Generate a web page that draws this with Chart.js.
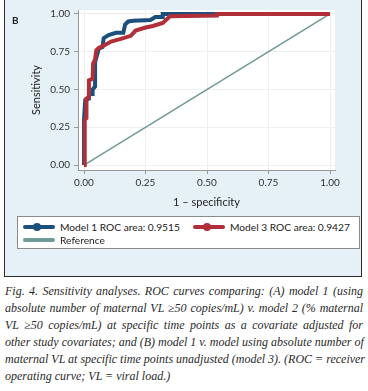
<!DOCTYPE html>
<html>
<head>
<meta charset="utf-8">
<script src="https://cdn.jsdelivr.net/npm/chart.js@4.4.1/dist/chart.umd.min.js"></script>
<style>
body { margin: 0; background: #fff; }
#wrap { position: relative; width: 368px; height: 391px; overflow: hidden; }
#panel { position: absolute; left: 4px; top: -2px; width: 356px; height: 277px; background: #e5f1f7; border: 1.5px solid #2b2b2b; }
#roc { position: absolute; left: 0; top: 0; }
#tag { position: absolute; left: 12px; top: 14px; font: bold 10px Lato, sans-serif; color: #222; }
#legend { position: absolute; left: 17px; top: 216px; width: 341px; height: 31px; background: #fff; border: 1px solid #8a8a8a; font: 11px Lato, sans-serif; color: #222; }
.item { position: absolute; display: flex; align-items: center; height: 14px; white-space: nowrap; }
.sym { position: relative; width: 32px; height: 14px; margin-right: 5px; }
.sym .ln { position: absolute; left: 0; right: 0; top: 5px; height: 4px; border-radius: 2px; }
.sym .dot { position: absolute; left: 10px; top: 3px; width: 8px; height: 8px; border-radius: 50%; }
#caption { position: absolute; left: 5px; top: 283px; width: 358px; font: italic 12px "Liberation Serif", serif; color: #2a2a2a; }
.cl { height: 17px; line-height: 17px; white-space: nowrap; text-align: justify; text-align-last: justify; }
.cl.last { text-align-last: left; }
</style>
</head>
<body>
<div id="wrap">
  <div id="panel"></div>
  <canvas id="roc" width="368" height="212"></canvas>
  <div id="tag">B</div>
  <div id="legend"></div>
  <div id="caption">
    <div class="cl">Fig. 4. Sensitivity analyses. ROC curves comparing: (A) model 1 (using</div>
    <div class="cl">absolute number of maternal VL ≥50 copies/mL) v. model 2 (% maternal</div>
    <div class="cl">VL ≥50 copies/mL) at specific time points as a covariate adjusted for</div>
    <div class="cl">other study covariates; and (B) model 1 v. model using absolute number of</div>
    <div class="cl">maternal VL at specific time points unadjusted (model 3). (ROC = receiver</div>
    <div class="cl last">operating curve; VL = viral load.)</div>
  </div>
</div>
<script>
// ROC points (1 - specificity, sensitivity)
const fprModel1 = [0, 0, 0.005, 0.02, 0.02, 0.035, 0.035, 0.045, 0.045, 0.06, 0.075, 0.08, 0.1, 0.13, 0.16, 0.167, 0.18, 0.2, 0.27, 0.29, 0.32, 0.32, 1];
const tprModel1 = [0, 0.30, 0.43, 0.44, 0.47, 0.47, 0.50, 0.52, 0.68, 0.77, 0.78, 0.84, 0.86, 0.875, 0.875, 0.93, 0.95, 0.955, 0.96, 0.98, 0.98, 1, 1];

const fprModel3 = [0, 0.003, 0.01, 0.01, 0.02, 0.02, 0.035, 0.037, 0.045, 0.05, 0.06, 0.085, 0.11, 0.15, 0.19, 0.21, 0.25, 0.28, 0.32, 0.35, 0.54, 0.54, 1];
const tprModel3 = [0, 0.30, 0.31, 0.44, 0.45, 0.56, 0.57, 0.67, 0.70, 0.76, 0.775, 0.795, 0.817, 0.835, 0.855, 0.89, 0.91, 0.92, 0.94, 0.985, 0.99, 1, 1];

const fprRef = [0, 1];
const tprRef = [0, 1];

const seriesLabels = ['Model 1 ROC area: 0.9515', 'Model 3 ROC area: 0.9427', 'Reference'];
const seriesColors = ['#1d4f7c', '#b02f38', '#6f9a98'];
const xTicks = [0, 0.25, 0.5, 0.75, 1];
const yTicks = [0, 0.25, 0.5, 0.75, 1];

const toPoints = (xs, ys) => xs.map((x, i) => ({ x, y: ys[i] }));

// white plot region on the blue panel
const plotBg = {
  id: 'plotBg',
  beforeDraw(chart) {
    const { ctx, chartArea: a } = chart;
    ctx.save();
    ctx.fillStyle = '#fff';
    ctx.fillRect(a.left, a.top, a.right - a.left, a.bottom - a.top);
    ctx.restore();
  }
};

const tickFont = { family: 'Lato', size: 10 };
const titleFont = { family: 'Lato', size: 11 };

const chart = new Chart(document.getElementById('roc'), {
  type: 'scatter',
  data: {
    datasets: [
      { label: seriesLabels[0], data: toPoints(fprModel1, tprModel1), borderColor: seriesColors[0], borderWidth: 4, showLine: true, pointRadius: 0, order: 1 },
      { label: seriesLabels[1], data: toPoints(fprModel3, tprModel3), borderColor: seriesColors[1], borderWidth: 4, showLine: true, pointRadius: 0, order: 0 },
      { label: seriesLabels[2], data: toPoints(fprRef, tprRef), borderColor: seriesColors[2], borderWidth: 1.5, showLine: true, pointRadius: 0, order: 2 }
    ]
  },
  options: {
    responsive: false,
    animation: false,
    devicePixelRatio: 1,
    layout: { padding: { left: 0, right: 33, top: 10, bottom: 0 } },
    plugins: { legend: { display: false }, tooltip: { enabled: false } },
    scales: {
      x: {
        type: 'linear', min: -0.0244, max: 1.0203,
        afterBuildTicks: s => { s.ticks = xTicks.map(v => ({ value: v })); },
        afterFit: s => { s.height = 42; },
        ticks: { callback: v => v.toFixed(2), padding: 3, font: tickFont, color: '#333', maxRotation: 0, autoSkip: false },
        grid: { color: '#efefef', tickColor: '#999', tickLength: 4 },
        border: { color: '#999' },
        title: { display: true, text: '1 – specificity', font: titleFont, color: '#222', padding: { top: 0, bottom: 3.4 } }
      },
      y: {
        type: 'linear', min: -0.033, max: 1.026,
        afterBuildTicks: s => { s.ticks = yTicks.map(v => ({ value: v })); },
        afterFit: s => { s.width = 78; },
        ticks: { callback: v => v.toFixed(2), padding: 4, font: tickFont, color: '#333', autoSkip: false },
        grid: { color: '#efefef', tickColor: '#999', tickLength: 4 },
        border: { color: '#999' },
        title: { display: true, text: 'Sensitivity', font: titleFont, color: '#222', padding: { top: 30, bottom: 0 } }
      }
    }
  },
  plugins: [plotBg]
});

// legend built from the datasets, Stata style (line + marker)
// font size chosen so the first label is ~120px wide like the figure
const mctx = document.createElement('canvas').getContext('2d');
mctx.font = '11px Lato';
const legendSize = Math.min(11, 11 * 120 / mctx.measureText(seriesLabels[0]).width);
const legend = document.getElementById('legend');
legend.style.fontSize = legendSize.toFixed(2) + 'px';
const legendPos = [{ left: 5, top: 3 }, { left: 175, top: 3 }, { left: 5, top: 16 }];
chart.data.datasets.forEach((ds, i) => {
  const item = document.createElement('div');
  item.className = 'item';
  item.style.left = legendPos[i].left + 'px';
  item.style.top = legendPos[i].top + 'px';
  const dot = i < 2 ? `<div class="dot" style="background:${ds.borderColor}"></div>` : '';
  item.innerHTML = `<div class="sym"><div class="ln" style="background:${ds.borderColor}"></div>${dot}</div><span>${ds.label}</span>`;
  legend.appendChild(item);
});
</script>
</body>
</html>
